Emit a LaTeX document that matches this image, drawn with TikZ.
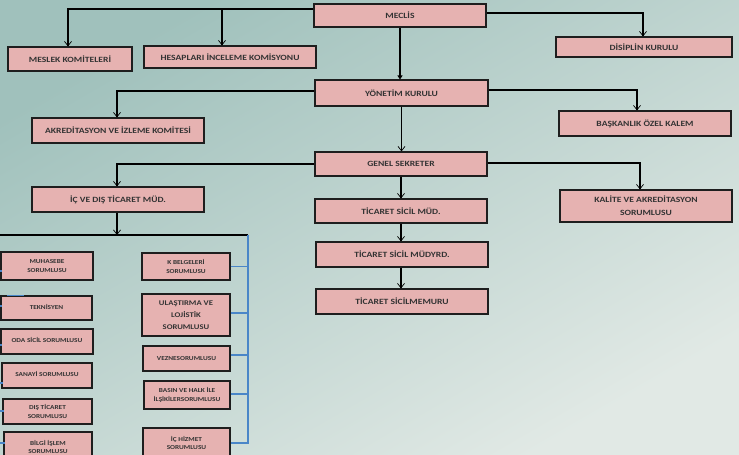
\documentclass[tikz,border=0pt]{standalone}
\usepackage{fontspec}
\setmainfont{Carlito}[FakeStretch=1.2]
\usetikzlibrary{arrows.meta}
\definecolor{bgA}{HTML}{A0C1BC}
\definecolor{bgB}{HTML}{E1E9E5}
\definecolor{boxpink}{HTML}{E6B2B1}
\definecolor{boxline}{HTML}{1E1E1E}
\definecolor{busblue}{HTML}{4A86C8}
\definecolor{txt}{HTML}{333333}
\begin{document}
\begin{tikzpicture}[x=1pt,y=-1pt,
  box/.style={draw=boxline, fill=boxpink, line width=1.1pt, inner sep=0pt, align=center,
    font=\bfseries\fontsize{8}{13}\selectfont, text=txt},
  small/.style={box, font=\bfseries\fontsize{6.1}{8.5}\selectfont},
  conn/.style={draw=black, line width=1.1pt},
  arr/.style={conn, -{Straight Barb[length=4.5pt,width=7pt,line width=0.7pt]}},
  farr/.style={conn, -{Triangle[length=4pt,width=5pt]}},
  bluebus/.style={draw=busblue, line width=1.3pt}]
\shade[top color=bgA, bottom color=bgB, shading angle=30] (0,0) rectangle (739,455);
\useasboundingbox (0,0) rectangle (739,455);
\clip (0,0) rectangle (739,455);

% top levels
\node[box, minimum width=172pt, minimum height=23pt] (meclis) at (400,15.5) {MECLİS};
\node[box, minimum width=124pt, minimum height=24pt] (meslek) at (70,59) {MESLEK KOMİTELERİ};
\node[box, minimum width=172pt, minimum height=22pt] (hesap) at (230,57) {HESAPLARI İNCELEME KOMİSYONU};
\node[box, minimum width=176pt, minimum height=20pt] (disiplin) at (644,47) {DİSİPLİN KURULU};
\node[box, minimum width=173pt, minimum height=26pt] (yonetim) at (401.5,93) {YÖNETİM KURULU};
\node[box, minimum width=172pt, minimum height=25pt] (akred) at (118,130.5) {AKREDİTASYON VE İZLEME KOMİTESİ};
\node[box, minimum width=172pt, minimum height=25pt] (baskan) at (645,123.5) {BAŞKANLIK ÖZEL KALEM};
\node[box, minimum width=172pt, minimum height=24pt] (genel) at (401,164) {GENEL SEKRETER};
\node[box, minimum width=172pt, minimum height=25pt] (icdis) at (118,199.5) {İÇ VE DIŞ TİCARET MÜD.};
\node[box, minimum width=172pt, minimum height=32pt] (kalite) at (646,206) {KALİTE VE AKREDİTASYON\\SORUMLUSU};
\node[box, minimum width=172pt, minimum height=24pt] (tsm) at (401,211) {TİCARET SİCİL MÜD.};
\node[box, minimum width=172pt, minimum height=25pt] (tsmy) at (402,254.5) {TİCARET SİCİL MÜDYRD.};
\node[box, minimum width=172pt, minimum height=25pt] (tsmem) at (402,301.5) {TİCARET SİCİLMEMURU};

% left column
\node[small, minimum width=92pt, minimum height=28pt] (muhasebe) at (47,266) {MUHASEBE\\SORUMLUSU};
\node[small, minimum width=91pt, minimum height=24pt] (teknisyen) at (46.5,308) {\raisebox{3pt}{TEKNİSYEN}};
\node[small, minimum width=92pt, minimum height=25pt] (oda) at (47,341.5) {\raisebox{3pt}{ODA SİCİL SORUMLUSU}};
\node[small, minimum width=90pt, minimum height=25pt] (sanayi) at (47,375.5) {\raisebox{3pt}{SANAYİ SORUMLUSU}};
\node[small, minimum width=89pt, minimum height=25pt] (distic) at (47.5,411.5) {DIŞ TİCARET\\SORUMLUSU};
\node[small, minimum width=88pt, minimum height=30pt] (bilgi) at (48,447) {BİLGİ İŞLEM\\SORUMLUSU};

% middle column
\node[box, font=\bfseries\fontsize{7.2}{12}\selectfont, minimum width=88pt, minimum height=42pt] (ulas) at (186,315) {ULAŞTIRMA VE\\LOJİSTİK\\SORUMLUSU};
\node[small, minimum width=88pt, minimum height=27pt] (kbelge) at (186,266.5) {K BELGELERİ\\SORUMLUSU};
\node[small, minimum width=87pt, minimum height=25pt] (vezne) at (186.5,358.5) {VEZNESORUMLUSU};
\node[small, minimum width=86pt, minimum height=28pt] (basin) at (187,395) {BASIN VE HALK İLE\\İLŞİKİLERSORUMLUSU};
\node[small, minimum width=87pt, minimum height=30pt] (ichiz) at (186.5,443) {İÇ HİZMET\\SORUMLUSU};

% connectors (upper tree)
\coordinate (hj) at (222,9);
\draw[arr] ([yshift=6.5pt]meclis.west) -| ([xshift=-2pt]meslek.north);
\draw[arr] (hj) -- (hj |- hesap.north);
\draw[arr] ([yshift=2.5pt]meclis.east) -| ([xshift=-1pt]disiplin.north);
\draw[farr] (meclis.south) -- (meclis.south |- yonetim.north);
\draw[arr] ([yshift=2pt]yonetim.west) -| ([xshift=-1pt]akred.north);
\draw[arr] ([yshift=3pt]yonetim.east) -| ([xshift=-8pt]baskan.north);
\draw[arr] (yonetim.south) -- (yonetim.south |- genel.north);
\draw[arr] (genel.west) -| ([xshift=-1pt]icdis.north);
\draw[arr] ([yshift=1pt]genel.east) -| ([xshift=-6pt]kalite.north);
\draw[arr] (genel.south) -- (genel.south |- tsm.north);
\draw[arr] (tsm.south) -- (tsm.south |- tsmy.north);
\draw[arr] (tsm.south |- tsmy.south) -- (tsm.south |- tsmem.north);

% lower bus
\coordinate (busL) at (-2,235);
\coordinate (busR) at (248,235);
\coordinate (ia) at (117,235);
\draw[arr] (icdis.south -| ia) -- (ia);
\draw[conn] (busL) -- (busR);
\coordinate (bt) at (248,235);
\coordinate (bb) at (248,443);
\draw[bluebus] (bt) -- (bb) -- (bb -| ichiz.east);
\draw[bluebus] (kbelge.east) -- (kbelge.east -| bt);
\draw[bluebus] ([yshift=2pt]ulas.east) -- ([yshift=2pt]ulas.east -| bt);
\draw[bluebus] ([yshift=3.5pt]vezne.east) -- ([yshift=3.5pt]vezne.east -| bt);
\draw[bluebus] ([yshift=1pt]basin.east) -- ([yshift=1pt]basin.east -| bt);

% left ticks
\coordinate (t1) at (-2,271);
\coordinate (t2) at (-2,306);
\coordinate (t3) at (-2,345);
\coordinate (t4) at (-2,383);
\coordinate (t5) at (-2,411);
\coordinate (t6) at (-2,443);
\draw[bluebus] (t1) -- ([xshift=2pt]t1 -| muhasebe.west);
\draw[bluebus] (t2) -- ([xshift=2pt]t2 -| teknisyen.west);
\draw[bluebus] (t3) -- ([xshift=2pt]t3 -| oda.west);
\draw[bluebus] (t4) -- ([xshift=2pt]t4 -| sanayi.west);
\draw[bluebus] (t5) -- ([xshift=2pt]t5 -| distic.west);
\draw[bluebus] (t6) -- ([xshift=2pt]t6 -| bilgi.west);
\draw[bluebus] ([xshift=7pt]teknisyen.north west) -- ++(17,0);
\end{tikzpicture}
\end{document}
